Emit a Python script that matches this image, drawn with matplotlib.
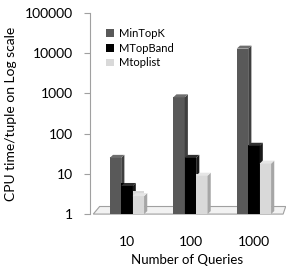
import matplotlib
matplotlib.use("Agg")
import matplotlib.pyplot as plt
from matplotlib.patches import Polygon
import numpy as np

queries = ["10", "100", "1000"]
series = ["MinTopK", "MTopBand", "Mtoplist"]
min_topk = [25, 800, 13000]
mtopband = [5, 25, 50]
mtoplist = [2.8, 9, 18]

front = ["#595959", "#000000", "#d9d9d9"]
side = ["#3f3f3f", "#1a1a1a", "#a6a6a6"]
top = ["#6e6e6e", "#303030", "#e6e6e6"]

plt.rcParams["font.family"] = ["Lato", "DejaVu Sans"]

fig = plt.figure(figsize=(2.86, 2.71), dpi=100)
ax = fig.add_axes([0.315, 0.21, 0.675, 0.742])
ax.set_yscale("log")
ax.set_ylim(1, 100000)
ax.set_xlim(-0.58, 2.46)

w = 0.18
dx = 0.05
f = 10 ** (3 / 40.2)
x = np.arange(len(queries))
values = [min_topk, mtopband, mtoplist]

# 3D floor
ax.add_patch(Polygon([(-0.53, 1), (-0.43, f * 1.3), (2.5, f * 1.3), (2.46, 1)],
                     closed=True, facecolor="#f2f2f2", edgecolor="#a0a0a0",
                     lw=0.8, clip_on=False, zorder=1))

for i, vals in enumerate(values):
    xs = x + (i - 1) * w
    ax.bar(xs, vals, width=w, bottom=1, color=front[i], label=series[i],
           zorder=3 + i)
    for xc, h in zip(xs, vals):
        x1 = xc + w / 2
        x0 = xc - w / 2
        ax.add_patch(Polygon([(x1, 1), (x1 + dx, f), (x1 + dx, h * f), (x1, h)],
                             closed=True, facecolor=side[i], edgecolor="none",
                             zorder=3 + i))
        ax.add_patch(Polygon([(x0, h), (x0 + dx, h * f), (x1 + dx, h * f), (x1, h)],
                             closed=True, facecolor=top[i], edgecolor="none",
                             zorder=3 + i))

ax.set_xticks(x)
ax.set_xticklabels(queries, fontsize=10)
ax.tick_params(axis="x", length=0, pad=16)
ax.set_yticks([1, 10, 100, 1000, 10000, 100000])
ax.set_yticklabels(["1", "10", "100", "1000", "10000", "100000"], fontsize=10)
ax.minorticks_off()
ax.tick_params(axis="y", length=4, color="#a0a0a0", pad=8)

for s in ["top", "right", "bottom"]:
    ax.spines[s].set_visible(False)
ax.spines["left"].set_color("#a0a0a0")

ax.set_xlabel("Number of Queries", fontsize=9.5, labelpad=4)
ax.set_ylabel("CPU time/tuple on Log scale", fontsize=10, labelpad=6)

leg = ax.legend(loc="upper left", bbox_to_anchor=(0.05, 0.96), frameon=False,
                fontsize=8, handlelength=0.7, handleheight=0.7,
                handletextpad=0.4, labelspacing=0.35, borderaxespad=0.2)

fig.savefig("out.png", dpi=100)
